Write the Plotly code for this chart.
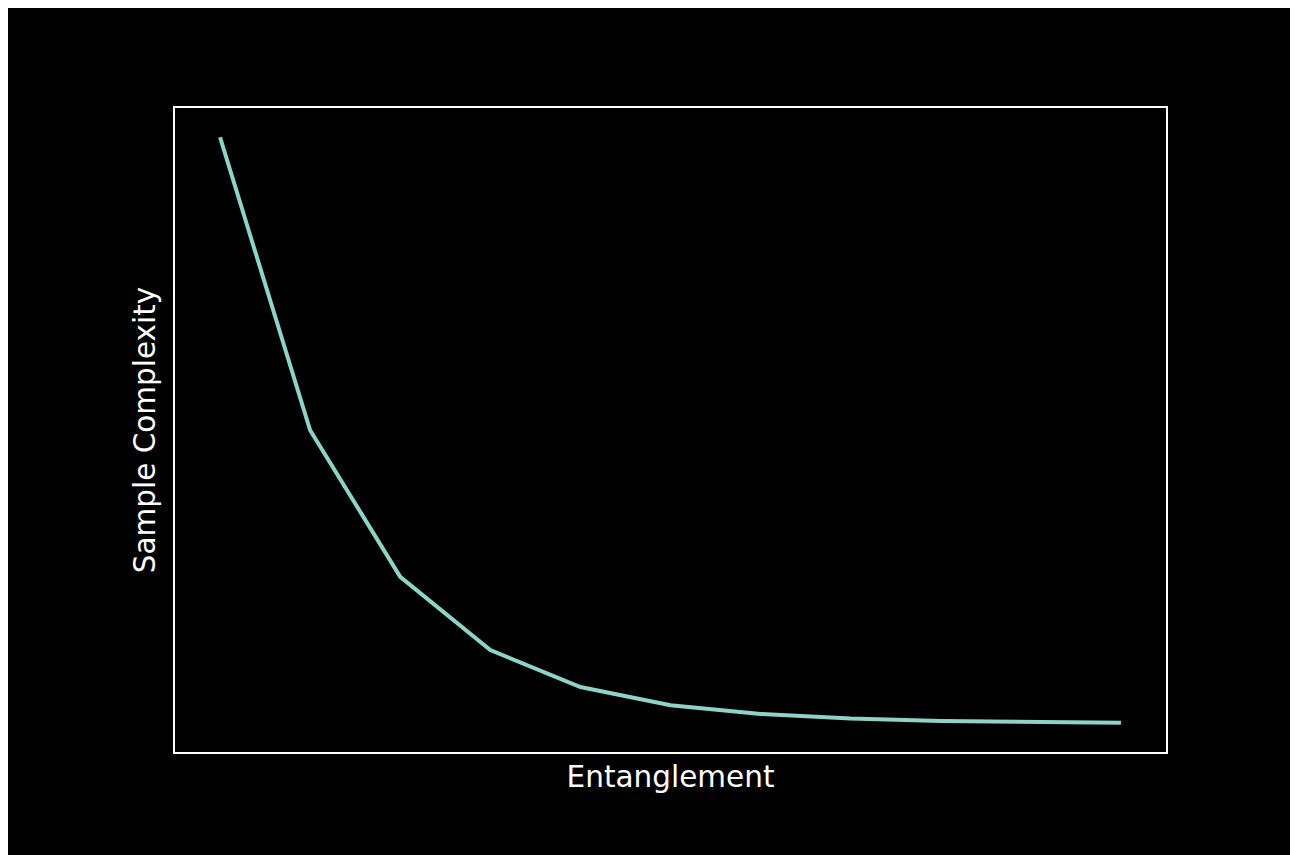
import plotly.graph_objects as go

entanglement = [0, 1, 2, 3, 4, 5, 6, 7, 8, 9, 10]
sample_complexity = [1.0, 0.5, 0.25, 0.125, 0.062, 0.031, 0.016, 0.008, 0.004, 0.002, 0.001]

x_label = "Entanglement"
y_label = "Sample Complexity"

xmin, xmax = min(entanglement), max(entanglement)
ymin, ymax = min(sample_complexity), max(sample_complexity)
xpad = 0.05 * (xmax - xmin)
ypad = 0.05 * (ymax - ymin)

fig = go.Figure()
fig.add_trace(go.Scatter(
    x=entanglement, y=sample_complexity, mode="lines",
    line=dict(color="#8dd3c7", width=4), showlegend=False, hoverinfo="skip",
))

font = dict(family="DejaVu Sans", size=29.5, color="white")
fig.update_layout(
    width=1287, height=847,
    margin=dict(l=167, r=129, t=100, b=103),
    paper_bgcolor="black", plot_bgcolor="black",
    xaxis=dict(range=[xmin - xpad, xmax + xpad], showticklabels=False, ticks="",
               showgrid=False, zeroline=False, showline=True, linecolor="white",
               linewidth=2, mirror=True,
               title=dict(text=x_label, font=font, standoff=13)),
    yaxis=dict(range=[ymin - ypad, ymax + ypad], showticklabels=False, ticks="",
               showgrid=False, zeroline=False, showline=True, linecolor="white",
               linewidth=2, mirror=True,
               title=dict(text=y_label, font=font, standoff=9)),
)
fig.write_html("out.html")
